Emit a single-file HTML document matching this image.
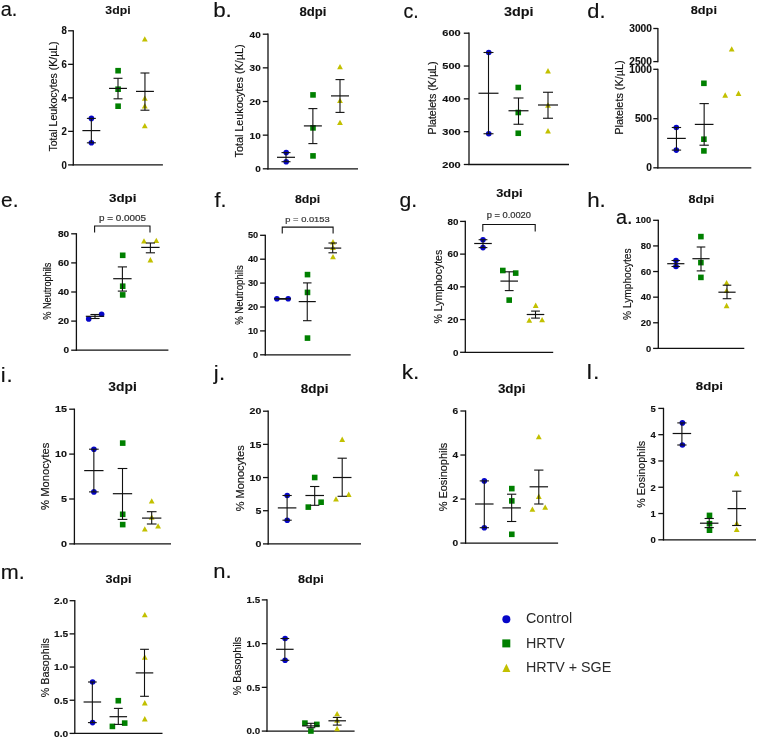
<!DOCTYPE html>
<html><head><meta charset="utf-8"><style>
html,body{margin:0;padding:0;background:#fff;}
svg{display:block;filter:blur(0.35px);}
text{font-family:"Liberation Sans", sans-serif;}
</style></head><body>
<svg width="757" height="739" viewBox="0 0 757 739">
<rect width="757" height="739" fill="#fff"/>
<text transform="translate(0.81,15.50) scale(0.993,1)" font-size="20" letter-spacing="0.00" fill="#111111" stroke="#111111" stroke-width="0.15">a.</text>
<text transform="translate(117.95,13.77) scale(1.040,1)" font-size="11.8" font-weight="bold" text-anchor="middle" fill="#111111" stroke="#111111" stroke-width="0.1">3dpi</text>
<line x1="73.30" y1="30.20" x2="73.30" y2="165.50" stroke="#111111" stroke-width="1.3"/>
<line x1="72.70" y1="164.90" x2="162.90" y2="164.90" stroke="#111111" stroke-width="1.3"/>
<line x1="68.10" y1="30.80" x2="73.30" y2="30.80" stroke="#111111" stroke-width="1.3"/>
<text transform="translate(66.90,34.45) scale(0.941,1)" font-size="10.2" font-weight="bold" text-anchor="end" fill="#111111" stroke="#111111" stroke-width="0.12">8</text>
<line x1="68.10" y1="64.33" x2="73.30" y2="64.33" stroke="#111111" stroke-width="1.3"/>
<text transform="translate(66.90,67.98) scale(0.941,1)" font-size="10.2" font-weight="bold" text-anchor="end" fill="#111111" stroke="#111111" stroke-width="0.12">6</text>
<line x1="68.10" y1="97.85" x2="73.30" y2="97.85" stroke="#111111" stroke-width="1.3"/>
<text transform="translate(66.90,101.50) scale(0.941,1)" font-size="10.2" font-weight="bold" text-anchor="end" fill="#111111" stroke="#111111" stroke-width="0.12">4</text>
<line x1="68.10" y1="131.38" x2="73.30" y2="131.38" stroke="#111111" stroke-width="1.3"/>
<text transform="translate(66.90,135.03) scale(0.941,1)" font-size="10.2" font-weight="bold" text-anchor="end" fill="#111111" stroke="#111111" stroke-width="0.12">2</text>
<line x1="68.10" y1="164.90" x2="73.30" y2="164.90" stroke="#111111" stroke-width="1.3"/>
<text transform="translate(66.90,168.55) scale(0.941,1)" font-size="10.2" font-weight="bold" text-anchor="end" fill="#111111" stroke="#111111" stroke-width="0.12">0</text>
<text transform="translate(52.80,96.50) rotate(-90)" x="0" y="3.71" font-size="10.30" text-anchor="middle" textLength="110.20" lengthAdjust="spacingAndGlyphs" fill="#111111" stroke="#111111" stroke-width="0.15">Total Leukocytes (K/µL)</text>
<circle cx="91.40" cy="118.40" r="2.80" fill="#0606c8"/>
<circle cx="91.40" cy="142.80" r="2.80" fill="#0606c8"/>
<rect x="115.30" y="67.90" width="5.60" height="5.60" fill="#008000"/>
<rect x="115.30" y="86.40" width="5.60" height="5.60" fill="#008000"/>
<rect x="115.30" y="103.40" width="5.60" height="5.60" fill="#008000"/>
<path d="M141.90,41.60 L147.70,41.60 L144.80,36.20 Z" fill="#c2c000"/>
<path d="M141.90,100.70 L147.70,100.70 L144.80,95.30 Z" fill="#c2c000"/>
<path d="M141.90,108.50 L147.70,108.50 L144.80,103.10 Z" fill="#c2c000"/>
<path d="M141.90,128.30 L147.70,128.30 L144.80,122.90 Z" fill="#c2c000"/>
<line x1="91.35" y1="118.40" x2="91.35" y2="142.80" stroke="#111111" stroke-width="1.1"/>
<line x1="86.87" y1="118.40" x2="95.83" y2="118.40" stroke="#111111" stroke-width="1.1"/>
<line x1="86.87" y1="142.80" x2="95.83" y2="142.80" stroke="#111111" stroke-width="1.1"/>
<line x1="82.39" y1="130.60" x2="100.31" y2="130.60" stroke="#111111" stroke-width="1.2000000000000002"/>
<line x1="118.00" y1="78.30" x2="118.00" y2="98.80" stroke="#111111" stroke-width="1.1"/>
<line x1="113.52" y1="78.30" x2="122.48" y2="78.30" stroke="#111111" stroke-width="1.1"/>
<line x1="113.52" y1="98.80" x2="122.48" y2="98.80" stroke="#111111" stroke-width="1.1"/>
<line x1="109.04" y1="88.40" x2="126.96" y2="88.40" stroke="#111111" stroke-width="1.2000000000000002"/>
<line x1="144.95" y1="73.00" x2="144.95" y2="110.20" stroke="#111111" stroke-width="1.1"/>
<line x1="140.47" y1="73.00" x2="149.43" y2="73.00" stroke="#111111" stroke-width="1.1"/>
<line x1="140.47" y1="110.20" x2="149.43" y2="110.20" stroke="#111111" stroke-width="1.1"/>
<line x1="135.99" y1="91.40" x2="153.91" y2="91.40" stroke="#111111" stroke-width="1.2000000000000002"/>
<text transform="translate(213.13,17.00) scale(1.066,1)" font-size="21" letter-spacing="0.00" fill="#111111" stroke="#111111" stroke-width="0.15">b.</text>
<text transform="translate(312.90,16.30) scale(1.070,1)" font-size="12.3" font-weight="bold" text-anchor="middle" fill="#111111" stroke="#111111" stroke-width="0.1">8dpi</text>
<line x1="268.00" y1="33.60" x2="268.00" y2="169.40" stroke="#111111" stroke-width="1.3"/>
<line x1="267.40" y1="168.80" x2="358.00" y2="168.80" stroke="#111111" stroke-width="1.3"/>
<line x1="262.80" y1="34.20" x2="268.00" y2="34.20" stroke="#111111" stroke-width="1.3"/>
<text transform="translate(260.70,37.64) scale(1.042,1)" font-size="9.6" font-weight="bold" text-anchor="end" fill="#111111" stroke="#111111" stroke-width="0.12">40</text>
<line x1="262.80" y1="67.85" x2="268.00" y2="67.85" stroke="#111111" stroke-width="1.3"/>
<text transform="translate(260.70,71.29) scale(1.042,1)" font-size="9.6" font-weight="bold" text-anchor="end" fill="#111111" stroke="#111111" stroke-width="0.12">30</text>
<line x1="262.80" y1="101.50" x2="268.00" y2="101.50" stroke="#111111" stroke-width="1.3"/>
<text transform="translate(260.70,104.94) scale(1.042,1)" font-size="9.6" font-weight="bold" text-anchor="end" fill="#111111" stroke="#111111" stroke-width="0.12">20</text>
<line x1="262.80" y1="135.15" x2="268.00" y2="135.15" stroke="#111111" stroke-width="1.3"/>
<text transform="translate(260.70,138.59) scale(1.042,1)" font-size="9.6" font-weight="bold" text-anchor="end" fill="#111111" stroke="#111111" stroke-width="0.12">10</text>
<line x1="262.80" y1="168.80" x2="268.00" y2="168.80" stroke="#111111" stroke-width="1.3"/>
<text transform="translate(260.70,172.24) scale(1.042,1)" font-size="9.6" font-weight="bold" text-anchor="end" fill="#111111" stroke="#111111" stroke-width="0.12">0</text>
<text transform="translate(239.60,101.00) rotate(-90)" x="0" y="3.71" font-size="10.30" text-anchor="middle" textLength="112.95" lengthAdjust="spacingAndGlyphs" fill="#111111" stroke="#111111" stroke-width="0.15">Total Leukocytes (K/µL)</text>
<circle cx="286.20" cy="152.60" r="2.80" fill="#0606c8"/>
<circle cx="286.20" cy="161.70" r="2.80" fill="#0606c8"/>
<rect x="310.20" y="92.10" width="5.60" height="5.60" fill="#008000"/>
<rect x="310.20" y="125.10" width="5.60" height="5.60" fill="#008000"/>
<rect x="310.20" y="153.10" width="5.60" height="5.60" fill="#008000"/>
<path d="M337.10,69.30 L342.90,69.30 L340.00,63.90 Z" fill="#c2c000"/>
<path d="M337.10,103.10 L342.90,103.10 L340.00,97.70 Z" fill="#c2c000"/>
<path d="M337.10,125.10 L342.90,125.10 L340.00,119.70 Z" fill="#c2c000"/>
<line x1="286.00" y1="152.60" x2="286.00" y2="161.70" stroke="#111111" stroke-width="1.1"/>
<line x1="281.50" y1="152.60" x2="290.50" y2="152.60" stroke="#111111" stroke-width="1.1"/>
<line x1="281.50" y1="161.70" x2="290.50" y2="161.70" stroke="#111111" stroke-width="1.1"/>
<line x1="277.00" y1="157.30" x2="295.00" y2="157.30" stroke="#111111" stroke-width="1.2000000000000002"/>
<line x1="312.88" y1="108.60" x2="312.88" y2="143.60" stroke="#111111" stroke-width="1.1"/>
<line x1="308.38" y1="108.60" x2="317.38" y2="108.60" stroke="#111111" stroke-width="1.1"/>
<line x1="308.38" y1="143.60" x2="317.38" y2="143.60" stroke="#111111" stroke-width="1.1"/>
<line x1="303.88" y1="125.90" x2="321.88" y2="125.90" stroke="#111111" stroke-width="1.2000000000000002"/>
<line x1="340.00" y1="79.60" x2="340.00" y2="112.40" stroke="#111111" stroke-width="1.1"/>
<line x1="335.50" y1="79.60" x2="344.50" y2="79.60" stroke="#111111" stroke-width="1.1"/>
<line x1="335.50" y1="112.40" x2="344.50" y2="112.40" stroke="#111111" stroke-width="1.1"/>
<line x1="331.00" y1="95.90" x2="349.00" y2="95.90" stroke="#111111" stroke-width="1.2000000000000002"/>
<text transform="translate(403.42,18.20) scale(0.977,1)" font-size="20" letter-spacing="0.00" fill="#111111" stroke="#111111" stroke-width="0.15">c.</text>
<text transform="translate(518.70,15.55) scale(1.200,1)" font-size="12" font-weight="bold" text-anchor="middle" fill="#111111" stroke="#111111" stroke-width="0.1">3dpi</text>
<line x1="469.00" y1="32.60" x2="469.00" y2="165.10" stroke="#111111" stroke-width="1.3"/>
<line x1="468.40" y1="164.50" x2="569.00" y2="164.50" stroke="#111111" stroke-width="1.3"/>
<line x1="463.80" y1="33.20" x2="469.00" y2="33.20" stroke="#111111" stroke-width="1.3"/>
<text transform="translate(460.70,36.49) scale(1.196,1)" font-size="9.2" font-weight="bold" text-anchor="end" fill="#111111" stroke="#111111" stroke-width="0.12">600</text>
<line x1="463.80" y1="66.03" x2="469.00" y2="66.03" stroke="#111111" stroke-width="1.3"/>
<text transform="translate(460.70,69.32) scale(1.196,1)" font-size="9.2" font-weight="bold" text-anchor="end" fill="#111111" stroke="#111111" stroke-width="0.12">500</text>
<line x1="463.80" y1="98.85" x2="469.00" y2="98.85" stroke="#111111" stroke-width="1.3"/>
<text transform="translate(460.70,102.14) scale(1.196,1)" font-size="9.2" font-weight="bold" text-anchor="end" fill="#111111" stroke="#111111" stroke-width="0.12">400</text>
<line x1="463.80" y1="131.68" x2="469.00" y2="131.68" stroke="#111111" stroke-width="1.3"/>
<text transform="translate(460.70,134.97) scale(1.196,1)" font-size="9.2" font-weight="bold" text-anchor="end" fill="#111111" stroke="#111111" stroke-width="0.12">300</text>
<line x1="463.80" y1="164.50" x2="469.00" y2="164.50" stroke="#111111" stroke-width="1.3"/>
<text transform="translate(460.70,167.79) scale(1.196,1)" font-size="9.2" font-weight="bold" text-anchor="end" fill="#111111" stroke="#111111" stroke-width="0.12">200</text>
<text transform="translate(432.50,98.00) rotate(-90)" x="0" y="3.71" font-size="10.30" text-anchor="middle" textLength="72.95" lengthAdjust="spacingAndGlyphs" fill="#111111" stroke="#111111" stroke-width="0.15">Platelets (K/µL)</text>
<circle cx="488.75" cy="52.50" r="2.80" fill="#0606c8"/>
<circle cx="488.75" cy="133.75" r="2.80" fill="#0606c8"/>
<rect x="515.45" y="84.70" width="5.60" height="5.60" fill="#008000"/>
<rect x="515.45" y="109.70" width="5.60" height="5.60" fill="#008000"/>
<rect x="515.45" y="130.45" width="5.60" height="5.60" fill="#008000"/>
<path d="M545.10,73.45 L550.90,73.45 L548.00,68.05 Z" fill="#c2c000"/>
<path d="M545.10,107.70 L550.90,107.70 L548.00,102.30 Z" fill="#c2c000"/>
<path d="M545.10,133.45 L550.90,133.45 L548.00,128.05 Z" fill="#c2c000"/>
<line x1="488.50" y1="52.50" x2="488.50" y2="133.75" stroke="#111111" stroke-width="1.1"/>
<line x1="483.50" y1="52.50" x2="493.50" y2="52.50" stroke="#111111" stroke-width="1.1"/>
<line x1="483.50" y1="133.75" x2="493.50" y2="133.75" stroke="#111111" stroke-width="1.1"/>
<line x1="478.50" y1="93.25" x2="498.50" y2="93.25" stroke="#111111" stroke-width="1.2000000000000002"/>
<line x1="518.50" y1="98.00" x2="518.50" y2="124.25" stroke="#111111" stroke-width="1.1"/>
<line x1="513.50" y1="98.00" x2="523.50" y2="98.00" stroke="#111111" stroke-width="1.1"/>
<line x1="513.50" y1="124.25" x2="523.50" y2="124.25" stroke="#111111" stroke-width="1.1"/>
<line x1="508.50" y1="110.75" x2="528.50" y2="110.75" stroke="#111111" stroke-width="1.2000000000000002"/>
<line x1="548.00" y1="92.25" x2="548.00" y2="118.25" stroke="#111111" stroke-width="1.1"/>
<line x1="543.00" y1="92.25" x2="553.00" y2="92.25" stroke="#111111" stroke-width="1.1"/>
<line x1="543.00" y1="118.25" x2="553.00" y2="118.25" stroke="#111111" stroke-width="1.1"/>
<line x1="538.00" y1="105.00" x2="558.00" y2="105.00" stroke="#111111" stroke-width="1.2000000000000002"/>
<text transform="translate(587.33,18.20) scale(1.041,1)" font-size="21" letter-spacing="0.00" fill="#111111" stroke="#111111" stroke-width="0.15">d.</text>
<text transform="translate(703.85,14.00) scale(1.180,1)" font-size="10.8" font-weight="bold" text-anchor="middle" fill="#111111" stroke="#111111" stroke-width="0.1">8dpi</text>
<line x1="657.90" y1="27.90" x2="657.90" y2="62.20" stroke="#111111" stroke-width="1.3"/>
<line x1="657.90" y1="68.70" x2="657.90" y2="168.40" stroke="#111111" stroke-width="1.3"/>
<line x1="657.30" y1="167.80" x2="751.30" y2="167.80" stroke="#111111" stroke-width="1.3"/>
<line x1="653.30" y1="28.50" x2="657.90" y2="28.50" stroke="#111111" stroke-width="1.3"/>
<text transform="translate(651.90,32.08) scale(1.020,1)" font-size="10" font-weight="bold" text-anchor="end" fill="#111111" stroke="#111111" stroke-width="0.12">3000</text>
<line x1="653.30" y1="61.60" x2="657.90" y2="61.60" stroke="#111111" stroke-width="1.3"/>
<text transform="translate(651.90,65.18) scale(1.020,1)" font-size="10" font-weight="bold" text-anchor="end" fill="#111111" stroke="#111111" stroke-width="0.12">2500</text>
<line x1="653.30" y1="69.30" x2="657.90" y2="69.30" stroke="#111111" stroke-width="1.3"/>
<text transform="translate(651.90,72.88) scale(1.020,1)" font-size="10" font-weight="bold" text-anchor="end" fill="#111111" stroke="#111111" stroke-width="0.12">1000</text>
<line x1="653.30" y1="118.70" x2="657.90" y2="118.70" stroke="#111111" stroke-width="1.3"/>
<text transform="translate(651.90,122.28) scale(1.020,1)" font-size="10" font-weight="bold" text-anchor="end" fill="#111111" stroke="#111111" stroke-width="0.12">500</text>
<line x1="653.30" y1="167.80" x2="657.90" y2="167.80" stroke="#111111" stroke-width="1.3"/>
<text transform="translate(651.90,171.38) scale(1.020,1)" font-size="10" font-weight="bold" text-anchor="end" fill="#111111" stroke="#111111" stroke-width="0.12">0</text>
<text transform="translate(619.30,97.60) rotate(-90)" x="0" y="3.71" font-size="10.30" text-anchor="middle" textLength="74.20" lengthAdjust="spacingAndGlyphs" fill="#111111" stroke="#111111" stroke-width="0.15">Platelets (K/µL)</text>
<circle cx="676.30" cy="127.50" r="2.80" fill="#0606c8"/>
<circle cx="676.30" cy="150.10" r="2.80" fill="#0606c8"/>
<rect x="701.10" y="80.50" width="5.60" height="5.60" fill="#008000"/>
<rect x="701.10" y="136.40" width="5.60" height="5.60" fill="#008000"/>
<rect x="701.10" y="148.10" width="5.60" height="5.60" fill="#008000"/>
<path d="M728.80,51.60 L734.60,51.60 L731.70,46.20 Z" fill="#c2c000"/>
<path d="M722.30,97.70 L728.10,97.70 L725.20,92.30 Z" fill="#c2c000"/>
<path d="M735.60,95.90 L741.40,95.90 L738.50,90.50 Z" fill="#c2c000"/>
<line x1="676.45" y1="127.50" x2="676.45" y2="150.10" stroke="#111111" stroke-width="1.1"/>
<line x1="671.78" y1="127.50" x2="681.12" y2="127.50" stroke="#111111" stroke-width="1.1"/>
<line x1="671.78" y1="150.10" x2="681.12" y2="150.10" stroke="#111111" stroke-width="1.1"/>
<line x1="667.11" y1="138.40" x2="685.79" y2="138.40" stroke="#111111" stroke-width="1.2000000000000002"/>
<line x1="704.15" y1="103.60" x2="704.15" y2="145.20" stroke="#111111" stroke-width="1.1"/>
<line x1="699.48" y1="103.60" x2="708.82" y2="103.60" stroke="#111111" stroke-width="1.1"/>
<line x1="699.48" y1="145.20" x2="708.82" y2="145.20" stroke="#111111" stroke-width="1.1"/>
<line x1="694.81" y1="124.40" x2="713.49" y2="124.40" stroke="#111111" stroke-width="1.2000000000000002"/>
<text transform="translate(1.07,207.00) scale(1.043,1)" font-size="20" letter-spacing="0.00" fill="#111111" stroke="#111111" stroke-width="0.15">e.</text>
<text transform="translate(122.70,202.35) scale(1.220,1)" font-size="11" font-weight="bold" text-anchor="middle" fill="#111111" stroke="#111111" stroke-width="0.1">3dpi</text>
<line x1="76.40" y1="233.20" x2="76.40" y2="350.80" stroke="#111111" stroke-width="1.3"/>
<line x1="75.80" y1="350.20" x2="168.40" y2="350.20" stroke="#111111" stroke-width="1.3"/>
<line x1="71.20" y1="233.80" x2="76.40" y2="233.80" stroke="#111111" stroke-width="1.3"/>
<text transform="translate(69.10,236.81) scale(1.202,1)" font-size="8.4" font-weight="bold" text-anchor="end" fill="#111111" stroke="#111111" stroke-width="0.12">80</text>
<line x1="71.20" y1="262.90" x2="76.40" y2="262.90" stroke="#111111" stroke-width="1.3"/>
<text transform="translate(69.10,265.91) scale(1.202,1)" font-size="8.4" font-weight="bold" text-anchor="end" fill="#111111" stroke="#111111" stroke-width="0.12">60</text>
<line x1="71.20" y1="292.00" x2="76.40" y2="292.00" stroke="#111111" stroke-width="1.3"/>
<text transform="translate(69.10,295.01) scale(1.202,1)" font-size="8.4" font-weight="bold" text-anchor="end" fill="#111111" stroke="#111111" stroke-width="0.12">40</text>
<line x1="71.20" y1="321.10" x2="76.40" y2="321.10" stroke="#111111" stroke-width="1.3"/>
<text transform="translate(69.10,324.11) scale(1.202,1)" font-size="8.4" font-weight="bold" text-anchor="end" fill="#111111" stroke="#111111" stroke-width="0.12">20</text>
<line x1="71.20" y1="350.20" x2="76.40" y2="350.20" stroke="#111111" stroke-width="1.3"/>
<text transform="translate(69.10,353.21) scale(1.202,1)" font-size="8.4" font-weight="bold" text-anchor="end" fill="#111111" stroke="#111111" stroke-width="0.12">0</text>
<text transform="translate(47.60,291.20) rotate(-90)" x="0" y="3.71" font-size="10.30" text-anchor="middle" textLength="57.10" lengthAdjust="spacingAndGlyphs" fill="#111111" stroke="#111111" stroke-width="0.15">% Neutrophils</text>
<text transform="translate(122.55,220.60) scale(1.210,1)" font-size="8.2" text-anchor="middle" fill="#333" stroke="#333" stroke-width="0.2">p = 0.0005</text>
<path d="M94.60,232.50 L94.60,226.00 L150.00,226.00 L150.00,232.50" fill="none" stroke="#111111" stroke-width="1.1"/>
<circle cx="88.70" cy="318.90" r="2.80" fill="#0606c8"/>
<circle cx="101.60" cy="314.20" r="2.80" fill="#0606c8"/>
<rect x="119.90" y="252.50" width="5.60" height="5.60" fill="#008000"/>
<rect x="119.90" y="283.40" width="5.60" height="5.60" fill="#008000"/>
<rect x="119.90" y="292.10" width="5.60" height="5.60" fill="#008000"/>
<path d="M141.10,243.60 L146.90,243.60 L144.00,238.20 Z" fill="#c2c000"/>
<path d="M153.40,243.10 L159.20,243.10 L156.30,237.70 Z" fill="#c2c000"/>
<path d="M147.50,262.40 L153.30,262.40 L150.40,257.00 Z" fill="#c2c000"/>
<line x1="95.00" y1="314.50" x2="95.00" y2="318.50" stroke="#111111" stroke-width="1.1"/>
<line x1="90.40" y1="314.50" x2="99.60" y2="314.50" stroke="#111111" stroke-width="1.1"/>
<line x1="90.40" y1="318.50" x2="99.60" y2="318.50" stroke="#111111" stroke-width="1.1"/>
<line x1="85.80" y1="316.30" x2="104.20" y2="316.30" stroke="#111111" stroke-width="1.2000000000000002"/>
<line x1="122.40" y1="266.90" x2="122.40" y2="291.10" stroke="#111111" stroke-width="1.1"/>
<line x1="117.80" y1="266.90" x2="127.00" y2="266.90" stroke="#111111" stroke-width="1.1"/>
<line x1="117.80" y1="291.10" x2="127.00" y2="291.10" stroke="#111111" stroke-width="1.1"/>
<line x1="113.20" y1="278.70" x2="131.60" y2="278.70" stroke="#111111" stroke-width="1.2000000000000002"/>
<line x1="150.40" y1="243.00" x2="150.40" y2="252.80" stroke="#111111" stroke-width="1.1"/>
<line x1="145.80" y1="243.00" x2="155.00" y2="243.00" stroke="#111111" stroke-width="1.1"/>
<line x1="145.80" y1="252.80" x2="155.00" y2="252.80" stroke="#111111" stroke-width="1.1"/>
<line x1="141.20" y1="247.40" x2="159.60" y2="247.40" stroke="#111111" stroke-width="1.2000000000000002"/>
<text transform="translate(214.48,207.00) scale(1.026,1)" font-size="21" letter-spacing="0.00" fill="#111111" stroke="#111111" stroke-width="0.15">f.</text>
<text transform="translate(307.60,202.60) scale(1.150,1)" font-size="10.7" font-weight="bold" text-anchor="middle" fill="#111111" stroke="#111111" stroke-width="0.1">8dpi</text>
<line x1="265.30" y1="234.70" x2="265.30" y2="355.40" stroke="#111111" stroke-width="1.3"/>
<line x1="264.70" y1="354.80" x2="350.70" y2="354.80" stroke="#111111" stroke-width="1.3"/>
<line x1="260.10" y1="235.30" x2="265.30" y2="235.30" stroke="#111111" stroke-width="1.3"/>
<text transform="translate(258.20,238.38) scale(1.070,1)" font-size="8.6" font-weight="bold" text-anchor="end" fill="#111111" stroke="#111111" stroke-width="0.12">50</text>
<line x1="260.10" y1="259.20" x2="265.30" y2="259.20" stroke="#111111" stroke-width="1.3"/>
<text transform="translate(258.20,262.28) scale(1.070,1)" font-size="8.6" font-weight="bold" text-anchor="end" fill="#111111" stroke="#111111" stroke-width="0.12">40</text>
<line x1="260.10" y1="283.10" x2="265.30" y2="283.10" stroke="#111111" stroke-width="1.3"/>
<text transform="translate(258.20,286.18) scale(1.070,1)" font-size="8.6" font-weight="bold" text-anchor="end" fill="#111111" stroke="#111111" stroke-width="0.12">30</text>
<line x1="260.10" y1="307.00" x2="265.30" y2="307.00" stroke="#111111" stroke-width="1.3"/>
<text transform="translate(258.20,310.08) scale(1.070,1)" font-size="8.6" font-weight="bold" text-anchor="end" fill="#111111" stroke="#111111" stroke-width="0.12">20</text>
<line x1="260.10" y1="330.90" x2="265.30" y2="330.90" stroke="#111111" stroke-width="1.3"/>
<text transform="translate(258.20,333.98) scale(1.070,1)" font-size="8.6" font-weight="bold" text-anchor="end" fill="#111111" stroke="#111111" stroke-width="0.12">10</text>
<line x1="260.10" y1="354.80" x2="265.30" y2="354.80" stroke="#111111" stroke-width="1.3"/>
<text transform="translate(258.20,357.88) scale(1.070,1)" font-size="8.6" font-weight="bold" text-anchor="end" fill="#111111" stroke="#111111" stroke-width="0.12">0</text>
<text transform="translate(238.90,295.00) rotate(-90)" x="0" y="3.71" font-size="10.30" text-anchor="middle" textLength="59.60" lengthAdjust="spacingAndGlyphs" fill="#111111" stroke="#111111" stroke-width="0.15">% Neutrophils</text>
<text transform="translate(307.50,221.50) scale(1.170,1)" font-size="8.0" text-anchor="middle" fill="#333" stroke="#333" stroke-width="0.2">p = 0.0153</text>
<path d="M282.25,233.40 L282.25,227.15 L333.10,227.15 L333.10,233.40" fill="none" stroke="#111111" stroke-width="1.1"/>
<circle cx="276.90" cy="298.80" r="2.80" fill="#0606c8"/>
<circle cx="288.20" cy="298.80" r="2.80" fill="#0606c8"/>
<rect x="304.70" y="271.80" width="5.60" height="5.60" fill="#008000"/>
<rect x="304.70" y="289.60" width="5.60" height="5.60" fill="#008000"/>
<rect x="304.70" y="335.30" width="5.60" height="5.60" fill="#008000"/>
<path d="M330.10,244.40 L335.90,244.40 L333.00,239.00 Z" fill="#c2c000"/>
<path d="M330.10,250.10 L335.90,250.10 L333.00,244.70 Z" fill="#c2c000"/>
<path d="M330.10,259.30 L335.90,259.30 L333.00,253.90 Z" fill="#c2c000"/>
<line x1="282.50" y1="298.80" x2="282.50" y2="298.80" stroke="#111111" stroke-width="1.1"/>
<line x1="278.23" y1="298.80" x2="286.77" y2="298.80" stroke="#111111" stroke-width="1.1"/>
<line x1="278.23" y1="298.80" x2="286.77" y2="298.80" stroke="#111111" stroke-width="1.1"/>
<line x1="273.96" y1="298.80" x2="291.04" y2="298.80" stroke="#111111" stroke-width="1.2000000000000002"/>
<line x1="307.25" y1="282.90" x2="307.25" y2="320.70" stroke="#111111" stroke-width="1.1"/>
<line x1="302.98" y1="282.90" x2="311.52" y2="282.90" stroke="#111111" stroke-width="1.1"/>
<line x1="302.98" y1="320.70" x2="311.52" y2="320.70" stroke="#111111" stroke-width="1.1"/>
<line x1="298.71" y1="301.60" x2="315.79" y2="301.60" stroke="#111111" stroke-width="1.2000000000000002"/>
<line x1="332.70" y1="243.00" x2="332.70" y2="252.80" stroke="#111111" stroke-width="1.1"/>
<line x1="328.43" y1="243.00" x2="336.97" y2="243.00" stroke="#111111" stroke-width="1.1"/>
<line x1="328.43" y1="252.80" x2="336.97" y2="252.80" stroke="#111111" stroke-width="1.1"/>
<line x1="324.16" y1="248.10" x2="341.24" y2="248.10" stroke="#111111" stroke-width="1.2000000000000002"/>
<text transform="translate(399.45,207.00) scale(1.057,1)" font-size="20" letter-spacing="0.00" fill="#111111" stroke="#111111" stroke-width="0.15">g.</text>
<text transform="translate(509.35,197.20) scale(1.150,1)" font-size="11.1" font-weight="bold" text-anchor="middle" fill="#111111" stroke="#111111" stroke-width="0.1">3dpi</text>
<line x1="465.30" y1="220.80" x2="465.30" y2="352.90" stroke="#111111" stroke-width="1.3"/>
<line x1="464.70" y1="352.30" x2="553.20" y2="352.30" stroke="#111111" stroke-width="1.3"/>
<line x1="460.10" y1="221.40" x2="465.30" y2="221.40" stroke="#111111" stroke-width="1.3"/>
<text transform="translate(458.40,224.69) scale(1.065,1)" font-size="9.2" font-weight="bold" text-anchor="end" fill="#111111" stroke="#111111" stroke-width="0.12">80</text>
<line x1="460.10" y1="254.12" x2="465.30" y2="254.12" stroke="#111111" stroke-width="1.3"/>
<text transform="translate(458.40,257.42) scale(1.065,1)" font-size="9.2" font-weight="bold" text-anchor="end" fill="#111111" stroke="#111111" stroke-width="0.12">60</text>
<line x1="460.10" y1="286.85" x2="465.30" y2="286.85" stroke="#111111" stroke-width="1.3"/>
<text transform="translate(458.40,290.14) scale(1.065,1)" font-size="9.2" font-weight="bold" text-anchor="end" fill="#111111" stroke="#111111" stroke-width="0.12">40</text>
<line x1="460.10" y1="319.58" x2="465.30" y2="319.58" stroke="#111111" stroke-width="1.3"/>
<text transform="translate(458.40,322.87) scale(1.065,1)" font-size="9.2" font-weight="bold" text-anchor="end" fill="#111111" stroke="#111111" stroke-width="0.12">20</text>
<line x1="460.10" y1="352.30" x2="465.30" y2="352.30" stroke="#111111" stroke-width="1.3"/>
<text transform="translate(458.40,355.59) scale(1.065,1)" font-size="9.2" font-weight="bold" text-anchor="end" fill="#111111" stroke="#111111" stroke-width="0.12">0</text>
<text transform="translate(438.00,286.70) rotate(-90)" x="0" y="3.71" font-size="10.30" text-anchor="middle" textLength="73.80" lengthAdjust="spacingAndGlyphs" fill="#111111" stroke="#111111" stroke-width="0.15">% Lymphocytes</text>
<text transform="translate(508.80,218.40) scale(1.110,1)" font-size="8.4" text-anchor="middle" fill="#333" stroke="#333" stroke-width="0.2">p = 0.0020</text>
<path d="M482.80,231.60 L482.80,224.50 L535.20,224.50 L535.20,231.60" fill="none" stroke="#111111" stroke-width="1.1"/>
<circle cx="483.00" cy="239.70" r="2.80" fill="#0606c8"/>
<circle cx="483.00" cy="247.60" r="2.80" fill="#0606c8"/>
<rect x="500.00" y="267.70" width="5.60" height="5.60" fill="#008000"/>
<rect x="512.90" y="270.30" width="5.60" height="5.60" fill="#008000"/>
<rect x="506.40" y="297.30" width="5.60" height="5.60" fill="#008000"/>
<path d="M532.80,307.90 L538.60,307.90 L535.70,302.50 Z" fill="#c2c000"/>
<path d="M526.40,322.80 L532.20,322.80 L529.30,317.40 Z" fill="#c2c000"/>
<path d="M539.20,322.30 L545.00,322.30 L542.10,316.90 Z" fill="#c2c000"/>
<line x1="483.00" y1="239.70" x2="483.00" y2="247.60" stroke="#111111" stroke-width="1.1"/>
<line x1="478.61" y1="239.70" x2="487.39" y2="239.70" stroke="#111111" stroke-width="1.1"/>
<line x1="478.61" y1="247.60" x2="487.39" y2="247.60" stroke="#111111" stroke-width="1.1"/>
<line x1="474.21" y1="243.50" x2="491.79" y2="243.50" stroke="#111111" stroke-width="1.2000000000000002"/>
<line x1="509.20" y1="271.80" x2="509.20" y2="290.60" stroke="#111111" stroke-width="1.1"/>
<line x1="504.81" y1="271.80" x2="513.60" y2="271.80" stroke="#111111" stroke-width="1.1"/>
<line x1="504.81" y1="290.60" x2="513.60" y2="290.60" stroke="#111111" stroke-width="1.1"/>
<line x1="500.41" y1="281.10" x2="517.99" y2="281.10" stroke="#111111" stroke-width="1.2000000000000002"/>
<line x1="535.50" y1="311.10" x2="535.50" y2="318.10" stroke="#111111" stroke-width="1.1"/>
<line x1="531.11" y1="311.10" x2="539.89" y2="311.10" stroke="#111111" stroke-width="1.1"/>
<line x1="531.11" y1="318.10" x2="539.89" y2="318.10" stroke="#111111" stroke-width="1.1"/>
<line x1="526.71" y1="314.50" x2="544.29" y2="314.50" stroke="#111111" stroke-width="1.2000000000000002"/>
<text transform="translate(587.13,206.50) scale(1.066,1)" font-size="21" letter-spacing="0.00" fill="#111111" stroke="#111111" stroke-width="0.15">h.</text>
<text transform="translate(615.91,224.20) scale(0.993,1)" font-size="20" letter-spacing="0.00" fill="#111111" stroke="#111111" stroke-width="0.15">a.</text>
<text transform="translate(701.45,203.20) scale(1.090,1)" font-size="11.5" font-weight="bold" text-anchor="middle" fill="#111111" stroke="#111111" stroke-width="0.1">8dpi</text>
<line x1="658.30" y1="219.80" x2="658.30" y2="349.00" stroke="#111111" stroke-width="1.3"/>
<line x1="657.70" y1="348.40" x2="744.30" y2="348.40" stroke="#111111" stroke-width="1.3"/>
<line x1="653.10" y1="220.30" x2="658.30" y2="220.30" stroke="#111111" stroke-width="1.3"/>
<text transform="translate(651.20,223.45) scale(1.068,1)" font-size="8.8" font-weight="bold" text-anchor="end" fill="#111111" stroke="#111111" stroke-width="0.12">100</text>
<line x1="653.10" y1="245.92" x2="658.30" y2="245.92" stroke="#111111" stroke-width="1.3"/>
<text transform="translate(651.20,249.07) scale(1.068,1)" font-size="8.8" font-weight="bold" text-anchor="end" fill="#111111" stroke="#111111" stroke-width="0.12">80</text>
<line x1="653.10" y1="271.54" x2="658.30" y2="271.54" stroke="#111111" stroke-width="1.3"/>
<text transform="translate(651.20,274.69) scale(1.068,1)" font-size="8.8" font-weight="bold" text-anchor="end" fill="#111111" stroke="#111111" stroke-width="0.12">60</text>
<line x1="653.10" y1="297.16" x2="658.30" y2="297.16" stroke="#111111" stroke-width="1.3"/>
<text transform="translate(651.20,300.31) scale(1.068,1)" font-size="8.8" font-weight="bold" text-anchor="end" fill="#111111" stroke="#111111" stroke-width="0.12">40</text>
<line x1="653.10" y1="322.78" x2="658.30" y2="322.78" stroke="#111111" stroke-width="1.3"/>
<text transform="translate(651.20,325.93) scale(1.068,1)" font-size="8.8" font-weight="bold" text-anchor="end" fill="#111111" stroke="#111111" stroke-width="0.12">20</text>
<line x1="653.10" y1="348.40" x2="658.30" y2="348.40" stroke="#111111" stroke-width="1.3"/>
<text transform="translate(651.20,351.55) scale(1.068,1)" font-size="8.8" font-weight="bold" text-anchor="end" fill="#111111" stroke="#111111" stroke-width="0.12">0</text>
<text transform="translate(627.40,284.20) rotate(-90)" x="0" y="3.71" font-size="10.30" text-anchor="middle" textLength="71.40" lengthAdjust="spacingAndGlyphs" fill="#111111" stroke="#111111" stroke-width="0.15">% Lymphocytes</text>
<circle cx="676.00" cy="260.50" r="2.80" fill="#0606c8"/>
<circle cx="676.00" cy="266.50" r="2.80" fill="#0606c8"/>
<rect x="698.10" y="233.80" width="5.60" height="5.60" fill="#008000"/>
<rect x="698.10" y="259.80" width="5.60" height="5.60" fill="#008000"/>
<rect x="698.10" y="274.60" width="5.60" height="5.60" fill="#008000"/>
<path d="M723.70,285.30 L729.50,285.30 L726.60,279.90 Z" fill="#c2c000"/>
<path d="M723.70,293.10 L729.50,293.10 L726.60,287.70 Z" fill="#c2c000"/>
<path d="M723.70,308.20 L729.50,308.20 L726.60,302.80 Z" fill="#c2c000"/>
<line x1="675.80" y1="260.50" x2="675.80" y2="266.50" stroke="#111111" stroke-width="1.1"/>
<line x1="671.50" y1="260.50" x2="680.10" y2="260.50" stroke="#111111" stroke-width="1.1"/>
<line x1="671.50" y1="266.50" x2="680.10" y2="266.50" stroke="#111111" stroke-width="1.1"/>
<line x1="667.20" y1="263.70" x2="684.40" y2="263.70" stroke="#111111" stroke-width="1.2000000000000002"/>
<line x1="701.00" y1="247.00" x2="701.00" y2="270.90" stroke="#111111" stroke-width="1.1"/>
<line x1="696.70" y1="247.00" x2="705.30" y2="247.00" stroke="#111111" stroke-width="1.1"/>
<line x1="696.70" y1="270.90" x2="705.30" y2="270.90" stroke="#111111" stroke-width="1.1"/>
<line x1="692.40" y1="258.70" x2="709.60" y2="258.70" stroke="#111111" stroke-width="1.2000000000000002"/>
<line x1="727.00" y1="285.20" x2="727.00" y2="298.70" stroke="#111111" stroke-width="1.1"/>
<line x1="722.70" y1="285.20" x2="731.30" y2="285.20" stroke="#111111" stroke-width="1.1"/>
<line x1="722.70" y1="298.70" x2="731.30" y2="298.70" stroke="#111111" stroke-width="1.1"/>
<line x1="718.40" y1="292.20" x2="735.60" y2="292.20" stroke="#111111" stroke-width="1.2000000000000002"/>
<text transform="translate(0.66,381.50) scale(1.100,1)" font-size="20" letter-spacing="0.84" fill="#111111" stroke="#111111" stroke-width="0.15">i.</text>
<text transform="translate(122.55,391.40) scale(1.100,1)" font-size="12.6" font-weight="bold" text-anchor="middle" fill="#111111" stroke="#111111" stroke-width="0.1">3dpi</text>
<line x1="74.40" y1="408.60" x2="74.40" y2="544.50" stroke="#111111" stroke-width="1.3"/>
<line x1="73.80" y1="543.90" x2="171.00" y2="543.90" stroke="#111111" stroke-width="1.3"/>
<line x1="69.20" y1="409.20" x2="74.40" y2="409.20" stroke="#111111" stroke-width="1.3"/>
<text transform="translate(66.90,412.49) scale(1.174,1)" font-size="9.2" font-weight="bold" text-anchor="end" fill="#111111" stroke="#111111" stroke-width="0.12">15</text>
<line x1="69.20" y1="454.10" x2="74.40" y2="454.10" stroke="#111111" stroke-width="1.3"/>
<text transform="translate(66.90,457.39) scale(1.174,1)" font-size="9.2" font-weight="bold" text-anchor="end" fill="#111111" stroke="#111111" stroke-width="0.12">10</text>
<line x1="69.20" y1="499.00" x2="74.40" y2="499.00" stroke="#111111" stroke-width="1.3"/>
<text transform="translate(66.90,502.29) scale(1.174,1)" font-size="9.2" font-weight="bold" text-anchor="end" fill="#111111" stroke="#111111" stroke-width="0.12">5</text>
<line x1="69.20" y1="543.90" x2="74.40" y2="543.90" stroke="#111111" stroke-width="1.3"/>
<text transform="translate(66.90,547.19) scale(1.174,1)" font-size="9.2" font-weight="bold" text-anchor="end" fill="#111111" stroke="#111111" stroke-width="0.12">0</text>
<text transform="translate(45.00,476.30) rotate(-90)" x="0" y="3.71" font-size="10.30" text-anchor="middle" textLength="67.30" lengthAdjust="spacingAndGlyphs" fill="#111111" stroke="#111111" stroke-width="0.15">% Monocytes</text>
<circle cx="93.90" cy="449.20" r="2.80" fill="#0606c8"/>
<circle cx="93.90" cy="491.90" r="2.80" fill="#0606c8"/>
<rect x="119.90" y="440.30" width="5.60" height="5.60" fill="#008000"/>
<rect x="119.90" y="511.50" width="5.60" height="5.60" fill="#008000"/>
<rect x="119.90" y="521.80" width="5.60" height="5.60" fill="#008000"/>
<path d="M148.80,503.60 L154.60,503.60 L151.70,498.20 Z" fill="#c2c000"/>
<path d="M141.90,531.60 L147.70,531.60 L144.80,526.20 Z" fill="#c2c000"/>
<path d="M155.20,528.60 L161.00,528.60 L158.10,523.20 Z" fill="#c2c000"/>
<path d="M148.80,519.70 L154.60,519.70 L151.70,514.30 Z" fill="#c2c000"/>
<line x1="93.85" y1="449.20" x2="93.85" y2="491.90" stroke="#111111" stroke-width="1.1"/>
<line x1="89.02" y1="449.20" x2="98.68" y2="449.20" stroke="#111111" stroke-width="1.1"/>
<line x1="89.02" y1="491.90" x2="98.68" y2="491.90" stroke="#111111" stroke-width="1.1"/>
<line x1="84.19" y1="470.60" x2="103.51" y2="470.60" stroke="#111111" stroke-width="1.2000000000000002"/>
<line x1="122.50" y1="468.50" x2="122.50" y2="519.40" stroke="#111111" stroke-width="1.1"/>
<line x1="117.67" y1="468.50" x2="127.33" y2="468.50" stroke="#111111" stroke-width="1.1"/>
<line x1="117.67" y1="519.40" x2="127.33" y2="519.40" stroke="#111111" stroke-width="1.1"/>
<line x1="112.84" y1="493.70" x2="132.16" y2="493.70" stroke="#111111" stroke-width="1.2000000000000002"/>
<line x1="151.70" y1="511.70" x2="151.70" y2="524.00" stroke="#111111" stroke-width="1.1"/>
<line x1="146.87" y1="511.70" x2="156.53" y2="511.70" stroke="#111111" stroke-width="1.1"/>
<line x1="146.87" y1="524.00" x2="156.53" y2="524.00" stroke="#111111" stroke-width="1.1"/>
<line x1="142.04" y1="518.10" x2="161.36" y2="518.10" stroke="#111111" stroke-width="1.2000000000000002"/>
<text transform="translate(213.84,379.60) scale(1.100,1)" font-size="20" letter-spacing="0.22" fill="#111111" stroke="#111111" stroke-width="0.15">j.</text>
<text transform="translate(314.65,393.40) scale(1.130,1)" font-size="11.9" font-weight="bold" text-anchor="middle" fill="#111111" stroke="#111111" stroke-width="0.1">8dpi</text>
<line x1="268.20" y1="410.60" x2="268.20" y2="544.50" stroke="#111111" stroke-width="1.3"/>
<line x1="267.60" y1="543.90" x2="361.00" y2="543.90" stroke="#111111" stroke-width="1.3"/>
<line x1="263.00" y1="411.20" x2="268.20" y2="411.20" stroke="#111111" stroke-width="1.3"/>
<text transform="translate(261.40,414.49) scale(1.152,1)" font-size="9.2" font-weight="bold" text-anchor="end" fill="#111111" stroke="#111111" stroke-width="0.12">20</text>
<line x1="263.00" y1="444.38" x2="268.20" y2="444.38" stroke="#111111" stroke-width="1.3"/>
<text transform="translate(261.40,447.67) scale(1.152,1)" font-size="9.2" font-weight="bold" text-anchor="end" fill="#111111" stroke="#111111" stroke-width="0.12">15</text>
<line x1="263.00" y1="477.55" x2="268.20" y2="477.55" stroke="#111111" stroke-width="1.3"/>
<text transform="translate(261.40,480.84) scale(1.152,1)" font-size="9.2" font-weight="bold" text-anchor="end" fill="#111111" stroke="#111111" stroke-width="0.12">10</text>
<line x1="263.00" y1="510.72" x2="268.20" y2="510.72" stroke="#111111" stroke-width="1.3"/>
<text transform="translate(261.40,514.02) scale(1.152,1)" font-size="9.2" font-weight="bold" text-anchor="end" fill="#111111" stroke="#111111" stroke-width="0.12">5</text>
<line x1="263.00" y1="543.90" x2="268.20" y2="543.90" stroke="#111111" stroke-width="1.3"/>
<text transform="translate(261.40,547.19) scale(1.152,1)" font-size="9.2" font-weight="bold" text-anchor="end" fill="#111111" stroke="#111111" stroke-width="0.12">0</text>
<text transform="translate(240.10,478.30) rotate(-90)" x="0" y="3.71" font-size="10.30" text-anchor="middle" textLength="66.10" lengthAdjust="spacingAndGlyphs" fill="#111111" stroke="#111111" stroke-width="0.15">% Monocytes</text>
<circle cx="287.20" cy="495.50" r="2.80" fill="#0606c8"/>
<circle cx="287.20" cy="520.20" r="2.80" fill="#0606c8"/>
<rect x="311.90" y="474.70" width="5.60" height="5.60" fill="#008000"/>
<rect x="305.50" y="504.30" width="5.60" height="5.60" fill="#008000"/>
<rect x="318.30" y="499.40" width="5.60" height="5.60" fill="#008000"/>
<path d="M339.30,441.90 L345.10,441.90 L342.20,436.50 Z" fill="#c2c000"/>
<path d="M333.10,501.60 L338.90,501.60 L336.00,496.20 Z" fill="#c2c000"/>
<path d="M345.80,496.90 L351.60,496.90 L348.70,491.50 Z" fill="#c2c000"/>
<line x1="287.10" y1="495.50" x2="287.10" y2="520.20" stroke="#111111" stroke-width="1.1"/>
<line x1="282.46" y1="495.50" x2="291.74" y2="495.50" stroke="#111111" stroke-width="1.1"/>
<line x1="282.46" y1="520.20" x2="291.74" y2="520.20" stroke="#111111" stroke-width="1.1"/>
<line x1="277.82" y1="507.90" x2="296.38" y2="507.90" stroke="#111111" stroke-width="1.2000000000000002"/>
<line x1="314.70" y1="486.50" x2="314.70" y2="505.30" stroke="#111111" stroke-width="1.1"/>
<line x1="310.06" y1="486.50" x2="319.34" y2="486.50" stroke="#111111" stroke-width="1.1"/>
<line x1="310.06" y1="505.30" x2="319.34" y2="505.30" stroke="#111111" stroke-width="1.1"/>
<line x1="305.42" y1="495.50" x2="323.98" y2="495.50" stroke="#111111" stroke-width="1.2000000000000002"/>
<line x1="342.20" y1="458.20" x2="342.20" y2="496.30" stroke="#111111" stroke-width="1.1"/>
<line x1="337.56" y1="458.20" x2="346.84" y2="458.20" stroke="#111111" stroke-width="1.1"/>
<line x1="337.56" y1="496.30" x2="346.84" y2="496.30" stroke="#111111" stroke-width="1.1"/>
<line x1="332.92" y1="477.50" x2="351.48" y2="477.50" stroke="#111111" stroke-width="1.2000000000000002"/>
<text transform="translate(401.71,379.40) scale(1.083,1)" font-size="21" letter-spacing="0.00" fill="#111111" stroke="#111111" stroke-width="0.15">k.</text>
<text transform="translate(511.70,393.40) scale(1.100,1)" font-size="12.2" font-weight="bold" text-anchor="middle" fill="#111111" stroke="#111111" stroke-width="0.1">3dpi</text>
<line x1="465.60" y1="410.40" x2="465.60" y2="543.70" stroke="#111111" stroke-width="1.3"/>
<line x1="465.00" y1="543.10" x2="558.10" y2="543.10" stroke="#111111" stroke-width="1.3"/>
<line x1="460.40" y1="411.00" x2="465.60" y2="411.00" stroke="#111111" stroke-width="1.3"/>
<text transform="translate(458.30,414.29) scale(1.109,1)" font-size="9.2" font-weight="bold" text-anchor="end" fill="#111111" stroke="#111111" stroke-width="0.12">6</text>
<line x1="460.40" y1="455.03" x2="465.60" y2="455.03" stroke="#111111" stroke-width="1.3"/>
<text transform="translate(458.30,458.32) scale(1.109,1)" font-size="9.2" font-weight="bold" text-anchor="end" fill="#111111" stroke="#111111" stroke-width="0.12">4</text>
<line x1="460.40" y1="499.06" x2="465.60" y2="499.06" stroke="#111111" stroke-width="1.3"/>
<text transform="translate(458.30,502.35) scale(1.109,1)" font-size="9.2" font-weight="bold" text-anchor="end" fill="#111111" stroke="#111111" stroke-width="0.12">2</text>
<line x1="460.40" y1="543.09" x2="465.60" y2="543.09" stroke="#111111" stroke-width="1.3"/>
<text transform="translate(458.30,546.38) scale(1.109,1)" font-size="9.2" font-weight="bold" text-anchor="end" fill="#111111" stroke="#111111" stroke-width="0.12">0</text>
<text transform="translate(443.10,477.00) rotate(-90)" x="0" y="3.71" font-size="10.30" text-anchor="middle" textLength="68.60" lengthAdjust="spacingAndGlyphs" fill="#111111" stroke="#111111" stroke-width="0.15">% Eosinophils</text>
<circle cx="484.30" cy="480.90" r="2.80" fill="#0606c8"/>
<circle cx="484.30" cy="527.70" r="2.80" fill="#0606c8"/>
<rect x="509.00" y="485.80" width="5.60" height="5.60" fill="#008000"/>
<rect x="509.00" y="498.10" width="5.60" height="5.60" fill="#008000"/>
<rect x="509.00" y="531.50" width="5.60" height="5.60" fill="#008000"/>
<path d="M535.90,439.30 L541.70,439.30 L538.80,433.90 Z" fill="#c2c000"/>
<path d="M529.50,511.80 L535.30,511.80 L532.40,506.40 Z" fill="#c2c000"/>
<path d="M542.30,509.80 L548.10,509.80 L545.20,504.40 Z" fill="#c2c000"/>
<path d="M535.90,499.00 L541.70,499.00 L538.80,493.60 Z" fill="#c2c000"/>
<line x1="484.30" y1="480.90" x2="484.30" y2="527.70" stroke="#111111" stroke-width="1.1"/>
<line x1="479.68" y1="480.90" x2="488.93" y2="480.90" stroke="#111111" stroke-width="1.1"/>
<line x1="479.68" y1="527.70" x2="488.93" y2="527.70" stroke="#111111" stroke-width="1.1"/>
<line x1="475.05" y1="504.00" x2="493.55" y2="504.00" stroke="#111111" stroke-width="1.2000000000000002"/>
<line x1="511.65" y1="494.20" x2="511.65" y2="521.50" stroke="#111111" stroke-width="1.1"/>
<line x1="507.02" y1="494.20" x2="516.27" y2="494.20" stroke="#111111" stroke-width="1.1"/>
<line x1="507.02" y1="521.50" x2="516.27" y2="521.50" stroke="#111111" stroke-width="1.1"/>
<line x1="502.40" y1="507.90" x2="520.90" y2="507.90" stroke="#111111" stroke-width="1.2000000000000002"/>
<line x1="538.80" y1="470.10" x2="538.80" y2="504.00" stroke="#111111" stroke-width="1.1"/>
<line x1="534.17" y1="470.10" x2="543.42" y2="470.10" stroke="#111111" stroke-width="1.1"/>
<line x1="534.17" y1="504.00" x2="543.42" y2="504.00" stroke="#111111" stroke-width="1.1"/>
<line x1="529.55" y1="486.80" x2="548.05" y2="486.80" stroke="#111111" stroke-width="1.2000000000000002"/>
<text transform="translate(586.68,379.20) scale(1.100,1)" font-size="21" letter-spacing="1.04" fill="#111111" stroke="#111111" stroke-width="0.15">l.</text>
<text transform="translate(709.40,390.20) scale(1.180,1)" font-size="11.2" font-weight="bold" text-anchor="middle" fill="#111111" stroke="#111111" stroke-width="0.1">8dpi</text>
<line x1="663.50" y1="407.80" x2="663.50" y2="540.40" stroke="#111111" stroke-width="1.3"/>
<line x1="662.90" y1="539.80" x2="756.00" y2="539.80" stroke="#111111" stroke-width="1.3"/>
<line x1="658.30" y1="408.40" x2="663.50" y2="408.40" stroke="#111111" stroke-width="1.3"/>
<text transform="translate(655.90,411.69) scale(1.033,1)" font-size="9.2" font-weight="bold" text-anchor="end" fill="#111111" stroke="#111111" stroke-width="0.12">5</text>
<line x1="658.30" y1="434.68" x2="663.50" y2="434.68" stroke="#111111" stroke-width="1.3"/>
<text transform="translate(655.90,437.97) scale(1.033,1)" font-size="9.2" font-weight="bold" text-anchor="end" fill="#111111" stroke="#111111" stroke-width="0.12">4</text>
<line x1="658.30" y1="460.96" x2="663.50" y2="460.96" stroke="#111111" stroke-width="1.3"/>
<text transform="translate(655.90,464.25) scale(1.033,1)" font-size="9.2" font-weight="bold" text-anchor="end" fill="#111111" stroke="#111111" stroke-width="0.12">3</text>
<line x1="658.30" y1="487.24" x2="663.50" y2="487.24" stroke="#111111" stroke-width="1.3"/>
<text transform="translate(655.90,490.53) scale(1.033,1)" font-size="9.2" font-weight="bold" text-anchor="end" fill="#111111" stroke="#111111" stroke-width="0.12">2</text>
<line x1="658.30" y1="513.52" x2="663.50" y2="513.52" stroke="#111111" stroke-width="1.3"/>
<text transform="translate(655.90,516.81) scale(1.033,1)" font-size="9.2" font-weight="bold" text-anchor="end" fill="#111111" stroke="#111111" stroke-width="0.12">1</text>
<line x1="658.30" y1="539.80" x2="663.50" y2="539.80" stroke="#111111" stroke-width="1.3"/>
<text transform="translate(655.90,543.09) scale(1.033,1)" font-size="9.2" font-weight="bold" text-anchor="end" fill="#111111" stroke="#111111" stroke-width="0.12">0</text>
<text transform="translate(641.10,474.30) rotate(-90)" x="0" y="3.71" font-size="10.30" text-anchor="middle" textLength="66.70" lengthAdjust="spacingAndGlyphs" fill="#111111" stroke="#111111" stroke-width="0.15">% Eosinophils</text>
<circle cx="682.40" cy="422.90" r="2.80" fill="#0606c8"/>
<circle cx="682.40" cy="445.00" r="2.80" fill="#0606c8"/>
<rect x="706.70" y="512.60" width="5.60" height="5.60" fill="#008000"/>
<rect x="706.70" y="520.90" width="5.60" height="5.60" fill="#008000"/>
<rect x="706.70" y="527.40" width="5.60" height="5.60" fill="#008000"/>
<path d="M733.80,476.20 L739.60,476.20 L736.70,470.80 Z" fill="#c2c000"/>
<path d="M733.80,525.90 L739.60,525.90 L736.70,520.50 Z" fill="#c2c000"/>
<path d="M733.80,532.10 L739.60,532.10 L736.70,526.70 Z" fill="#c2c000"/>
<line x1="681.90" y1="422.90" x2="681.90" y2="445.00" stroke="#111111" stroke-width="1.1"/>
<line x1="677.27" y1="422.90" x2="686.52" y2="422.90" stroke="#111111" stroke-width="1.1"/>
<line x1="677.27" y1="445.00" x2="686.52" y2="445.00" stroke="#111111" stroke-width="1.1"/>
<line x1="672.65" y1="433.50" x2="691.15" y2="433.50" stroke="#111111" stroke-width="1.2000000000000002"/>
<line x1="709.20" y1="518.50" x2="709.20" y2="527.60" stroke="#111111" stroke-width="1.1"/>
<line x1="704.58" y1="518.50" x2="713.83" y2="518.50" stroke="#111111" stroke-width="1.1"/>
<line x1="704.58" y1="527.60" x2="713.83" y2="527.60" stroke="#111111" stroke-width="1.1"/>
<line x1="699.95" y1="523.20" x2="718.45" y2="523.20" stroke="#111111" stroke-width="1.2000000000000002"/>
<line x1="736.75" y1="491.20" x2="736.75" y2="525.50" stroke="#111111" stroke-width="1.1"/>
<line x1="732.12" y1="491.20" x2="741.38" y2="491.20" stroke="#111111" stroke-width="1.1"/>
<line x1="732.12" y1="525.50" x2="741.38" y2="525.50" stroke="#111111" stroke-width="1.1"/>
<line x1="727.50" y1="508.60" x2="746.00" y2="508.60" stroke="#111111" stroke-width="1.2000000000000002"/>
<text transform="translate(0.79,578.50) scale(1.079,1)" font-size="20" letter-spacing="0.00" fill="#111111" stroke="#111111" stroke-width="0.15">m.</text>
<text transform="translate(118.55,582.70) scale(1.070,1)" font-size="11.8" font-weight="bold" text-anchor="middle" fill="#111111" stroke="#111111" stroke-width="0.1">3dpi</text>
<line x1="74.80" y1="600.10" x2="74.80" y2="734.00" stroke="#111111" stroke-width="1.3"/>
<line x1="74.20" y1="733.40" x2="162.50" y2="733.40" stroke="#111111" stroke-width="1.3"/>
<line x1="69.60" y1="600.70" x2="74.80" y2="600.70" stroke="#111111" stroke-width="1.3"/>
<text transform="translate(68.20,603.99) scale(1.109,1)" font-size="9.2" font-weight="bold" text-anchor="end" fill="#111111" stroke="#111111" stroke-width="0.12">2.0</text>
<line x1="69.60" y1="633.88" x2="74.80" y2="633.88" stroke="#111111" stroke-width="1.3"/>
<text transform="translate(68.20,637.17) scale(1.109,1)" font-size="9.2" font-weight="bold" text-anchor="end" fill="#111111" stroke="#111111" stroke-width="0.12">1.5</text>
<line x1="69.60" y1="667.05" x2="74.80" y2="667.05" stroke="#111111" stroke-width="1.3"/>
<text transform="translate(68.20,670.34) scale(1.109,1)" font-size="9.2" font-weight="bold" text-anchor="end" fill="#111111" stroke="#111111" stroke-width="0.12">1.0</text>
<line x1="69.60" y1="700.23" x2="74.80" y2="700.23" stroke="#111111" stroke-width="1.3"/>
<text transform="translate(68.20,703.52) scale(1.109,1)" font-size="9.2" font-weight="bold" text-anchor="end" fill="#111111" stroke="#111111" stroke-width="0.12">0.5</text>
<line x1="69.60" y1="733.40" x2="74.80" y2="733.40" stroke="#111111" stroke-width="1.3"/>
<text transform="translate(68.20,736.69) scale(1.109,1)" font-size="9.2" font-weight="bold" text-anchor="end" fill="#111111" stroke="#111111" stroke-width="0.12">0.0</text>
<text transform="translate(45.00,667.70) rotate(-90)" x="0" y="3.71" font-size="10.30" text-anchor="middle" textLength="59.10" lengthAdjust="spacingAndGlyphs" fill="#111111" stroke="#111111" stroke-width="0.15">% Basophils</text>
<circle cx="92.60" cy="682.00" r="2.80" fill="#0606c8"/>
<circle cx="92.60" cy="722.60" r="2.80" fill="#0606c8"/>
<rect x="115.50" y="697.90" width="5.60" height="5.60" fill="#008000"/>
<rect x="109.60" y="723.60" width="5.60" height="5.60" fill="#008000"/>
<rect x="121.90" y="720.30" width="5.60" height="5.60" fill="#008000"/>
<path d="M141.90,617.30 L147.70,617.30 L144.80,611.90 Z" fill="#c2c000"/>
<path d="M141.90,659.70 L147.70,659.70 L144.80,654.30 Z" fill="#c2c000"/>
<path d="M141.90,705.50 L147.70,705.50 L144.80,700.10 Z" fill="#c2c000"/>
<path d="M141.90,721.40 L147.70,721.40 L144.80,716.00 Z" fill="#c2c000"/>
<line x1="92.35" y1="682.00" x2="92.35" y2="722.60" stroke="#111111" stroke-width="1.1"/>
<line x1="87.96" y1="682.00" x2="96.73" y2="682.00" stroke="#111111" stroke-width="1.1"/>
<line x1="87.96" y1="722.60" x2="96.73" y2="722.60" stroke="#111111" stroke-width="1.1"/>
<line x1="83.58" y1="702.00" x2="101.12" y2="702.00" stroke="#111111" stroke-width="1.2000000000000002"/>
<line x1="118.30" y1="708.40" x2="118.30" y2="724.40" stroke="#111111" stroke-width="1.1"/>
<line x1="113.91" y1="708.40" x2="122.69" y2="708.40" stroke="#111111" stroke-width="1.1"/>
<line x1="113.91" y1="724.40" x2="122.69" y2="724.40" stroke="#111111" stroke-width="1.1"/>
<line x1="109.53" y1="716.70" x2="127.07" y2="716.70" stroke="#111111" stroke-width="1.2000000000000002"/>
<line x1="144.50" y1="649.30" x2="144.50" y2="696.30" stroke="#111111" stroke-width="1.1"/>
<line x1="140.12" y1="649.30" x2="148.88" y2="649.30" stroke="#111111" stroke-width="1.1"/>
<line x1="140.12" y1="696.30" x2="148.88" y2="696.30" stroke="#111111" stroke-width="1.1"/>
<line x1="135.73" y1="672.90" x2="153.27" y2="672.90" stroke="#111111" stroke-width="1.2000000000000002"/>
<text transform="translate(213.16,578.40) scale(1.100,1)" font-size="20" letter-spacing="0.15" fill="#111111" stroke="#111111" stroke-width="0.15">n.</text>
<text transform="translate(310.90,582.70) scale(1.070,1)" font-size="11.8" font-weight="bold" text-anchor="middle" fill="#111111" stroke="#111111" stroke-width="0.1">8dpi</text>
<line x1="267.00" y1="599.30" x2="267.00" y2="731.70" stroke="#111111" stroke-width="1.3"/>
<line x1="266.40" y1="731.10" x2="354.60" y2="731.10" stroke="#111111" stroke-width="1.3"/>
<line x1="261.80" y1="599.90" x2="267.00" y2="599.90" stroke="#111111" stroke-width="1.3"/>
<text transform="translate(260.10,603.27) scale(1.043,1)" font-size="9.4" font-weight="bold" text-anchor="end" fill="#111111" stroke="#111111" stroke-width="0.12">1.5</text>
<line x1="261.80" y1="643.63" x2="267.00" y2="643.63" stroke="#111111" stroke-width="1.3"/>
<text transform="translate(260.10,647.00) scale(1.043,1)" font-size="9.4" font-weight="bold" text-anchor="end" fill="#111111" stroke="#111111" stroke-width="0.12">1.0</text>
<line x1="261.80" y1="687.36" x2="267.00" y2="687.36" stroke="#111111" stroke-width="1.3"/>
<text transform="translate(260.10,690.73) scale(1.043,1)" font-size="9.4" font-weight="bold" text-anchor="end" fill="#111111" stroke="#111111" stroke-width="0.12">0.5</text>
<line x1="261.80" y1="731.09" x2="267.00" y2="731.09" stroke="#111111" stroke-width="1.3"/>
<text transform="translate(260.10,734.46) scale(1.043,1)" font-size="9.4" font-weight="bold" text-anchor="end" fill="#111111" stroke="#111111" stroke-width="0.12">0.0</text>
<text transform="translate(237.60,666.00) rotate(-90)" x="0" y="3.71" font-size="10.30" text-anchor="middle" textLength="58.30" lengthAdjust="spacingAndGlyphs" fill="#111111" stroke="#111111" stroke-width="0.15">% Basophils</text>
<circle cx="285.10" cy="638.50" r="2.80" fill="#0606c8"/>
<circle cx="285.10" cy="660.30" r="2.80" fill="#0606c8"/>
<rect x="302.10" y="720.30" width="5.60" height="5.60" fill="#008000"/>
<rect x="308.10" y="728.20" width="5.60" height="5.60" fill="#008000"/>
<rect x="314.00" y="721.60" width="5.60" height="5.60" fill="#008000"/>
<path d="M334.20,716.30 L340.00,716.30 L337.10,710.90 Z" fill="#c2c000"/>
<path d="M334.20,722.70 L340.00,722.70 L337.10,717.30 Z" fill="#c2c000"/>
<path d="M334.20,731.20 L340.00,731.20 L337.10,725.80 Z" fill="#c2c000"/>
<line x1="284.85" y1="638.50" x2="284.85" y2="660.30" stroke="#111111" stroke-width="1.1"/>
<line x1="280.47" y1="638.50" x2="289.23" y2="638.50" stroke="#111111" stroke-width="1.1"/>
<line x1="280.47" y1="660.30" x2="289.23" y2="660.30" stroke="#111111" stroke-width="1.1"/>
<line x1="276.09" y1="649.30" x2="293.61" y2="649.30" stroke="#111111" stroke-width="1.2000000000000002"/>
<line x1="310.90" y1="723.30" x2="310.90" y2="727.70" stroke="#111111" stroke-width="1.1"/>
<line x1="306.52" y1="723.30" x2="315.28" y2="723.30" stroke="#111111" stroke-width="1.1"/>
<line x1="306.52" y1="727.70" x2="315.28" y2="727.70" stroke="#111111" stroke-width="1.1"/>
<line x1="302.14" y1="725.90" x2="319.66" y2="725.90" stroke="#111111" stroke-width="1.2000000000000002"/>
<line x1="337.20" y1="717.40" x2="337.20" y2="725.10" stroke="#111111" stroke-width="1.1"/>
<line x1="332.82" y1="717.40" x2="341.58" y2="717.40" stroke="#111111" stroke-width="1.1"/>
<line x1="332.82" y1="725.10" x2="341.58" y2="725.10" stroke="#111111" stroke-width="1.1"/>
<line x1="328.44" y1="720.80" x2="345.96" y2="720.80" stroke="#111111" stroke-width="1.2000000000000002"/>
<circle cx="506.35" cy="619.2" r="4" fill="#0606c8"/>
<rect x="502.3" y="639.4" width="8" height="8" fill="#008000"/>
<path d="M502.4,672 L510.4,672 L506.4,663.8 Z" fill="#c2c000"/>
<text transform="translate(526.0,623.4) scale(0.955,1)" font-size="15" fill="#2a2a2a">Control</text>
<text transform="translate(526.0,647.6) scale(0.955,1)" font-size="15" fill="#2a2a2a">HRTV</text>
<text transform="translate(526.0,672.1) scale(0.955,1)" font-size="15" fill="#2a2a2a">HRTV + SGE</text>
</svg></body></html>
